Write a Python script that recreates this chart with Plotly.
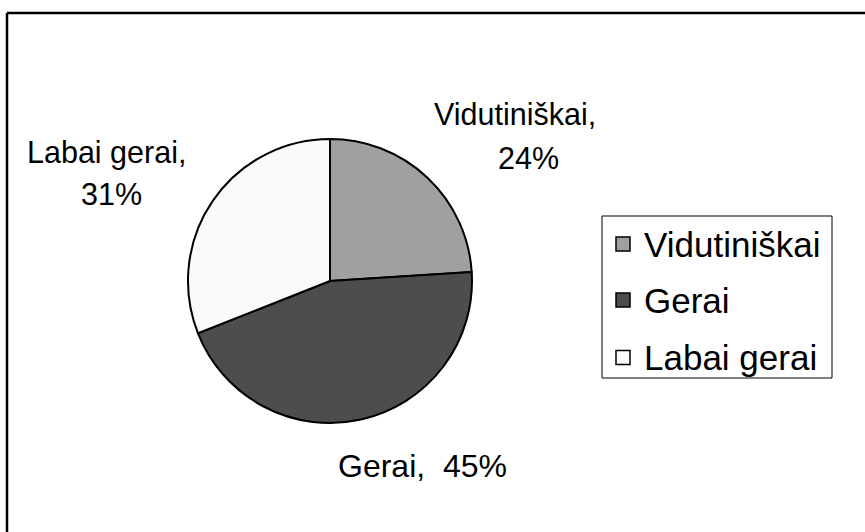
import plotly.graph_objects as go

labels = ["Vidutiniškai", "Gerai", "Labai gerai"]
values = [24, 45, 31]
colors = ["#A0A0A0", "#4D4D4D", "#FAFAFA"]

W, H = 865, 532
FONT = "Liberation Sans, Arial, sans-serif"


def X(px):
    return px / W


def Y(py):
    return 1 - py / H


fig = go.Figure()
fig.add_trace(go.Pie(
    labels=labels,
    values=values,
    sort=False,
    direction="clockwise",
    rotation=0,
    marker=dict(colors=colors, line=dict(color="black", width=2)),
    textinfo="none",
    hoverinfo="label+percent",
    showlegend=False,
    domain=dict(x=[X(188), X(472)], y=[Y(423), Y(139)]),
))

total = sum(values)
pct = [round(v * 100 / total) for v in values]

# data labels: (name line position, value line position); None = same line
label_layout = [
    ((515, 114), (528, 158)),
    ((422, 466), None),
    ((106, 152), (112, 194)),
]
annotations = []


def add_text(px, py, t, size):
    annotations.append(dict(
        x=X(px), y=Y(py), xref="paper", yref="paper", text=t, showarrow=False,
        xanchor="center", yanchor="middle", align="center",
        font=dict(family=FONT, size=size, color="black"),
    ))


for lab, p, (pos1, pos2) in zip(labels, pct, label_layout):
    if pos2 is None:
        add_text(pos1[0], pos1[1], f"{lab},\u00a0 {p}%", 32)
    else:
        add_text(pos1[0], pos1[1], f"{lab},", 30.5)
        add_text(pos2[0], pos2[1], f"{p}%", 30.5)

shapes = [
    dict(type="line", xref="paper", yref="paper", x0=X(7), x1=1.01, y0=Y(13), y1=Y(13),
         line=dict(color="black", width=2.5)),
    dict(type="line", xref="paper", yref="paper", x0=X(7), x1=X(7), y0=Y(13), y1=-0.01,
         line=dict(color="black", width=2.5)),
    dict(type="rect", xref="paper", yref="paper", x0=X(602), x1=X(832), y0=Y(378), y1=Y(216),
         line=dict(color="black", width=1), fillcolor="white"),
]
leg_y = [244, 300, 357.5]
for lab, col, cy in zip(labels, colors, leg_y):
    shapes.append(dict(type="rect", xref="paper", yref="paper",
                       x0=X(616), x1=X(630), y0=Y(cy + 7), y1=Y(cy - 7),
                       line=dict(color="black", width=1.5), fillcolor=col))
    annotations.append(dict(
        x=X(642), y=Y(cy), xref="paper", yref="paper", text=lab, showarrow=False,
        xanchor="left", yanchor="middle",
        font=dict(family=FONT, size=35, color="black"),
    ))

fig.update_layout(
    width=W, height=H,
    margin=dict(l=0, r=0, t=0, b=0),
    paper_bgcolor="white", plot_bgcolor="white",
    shapes=shapes, annotations=annotations,
    showlegend=False,
)

fig.write_html("out.html", config={"displayModeBar": False},
               post_script="document.body.style.margin='0';")
